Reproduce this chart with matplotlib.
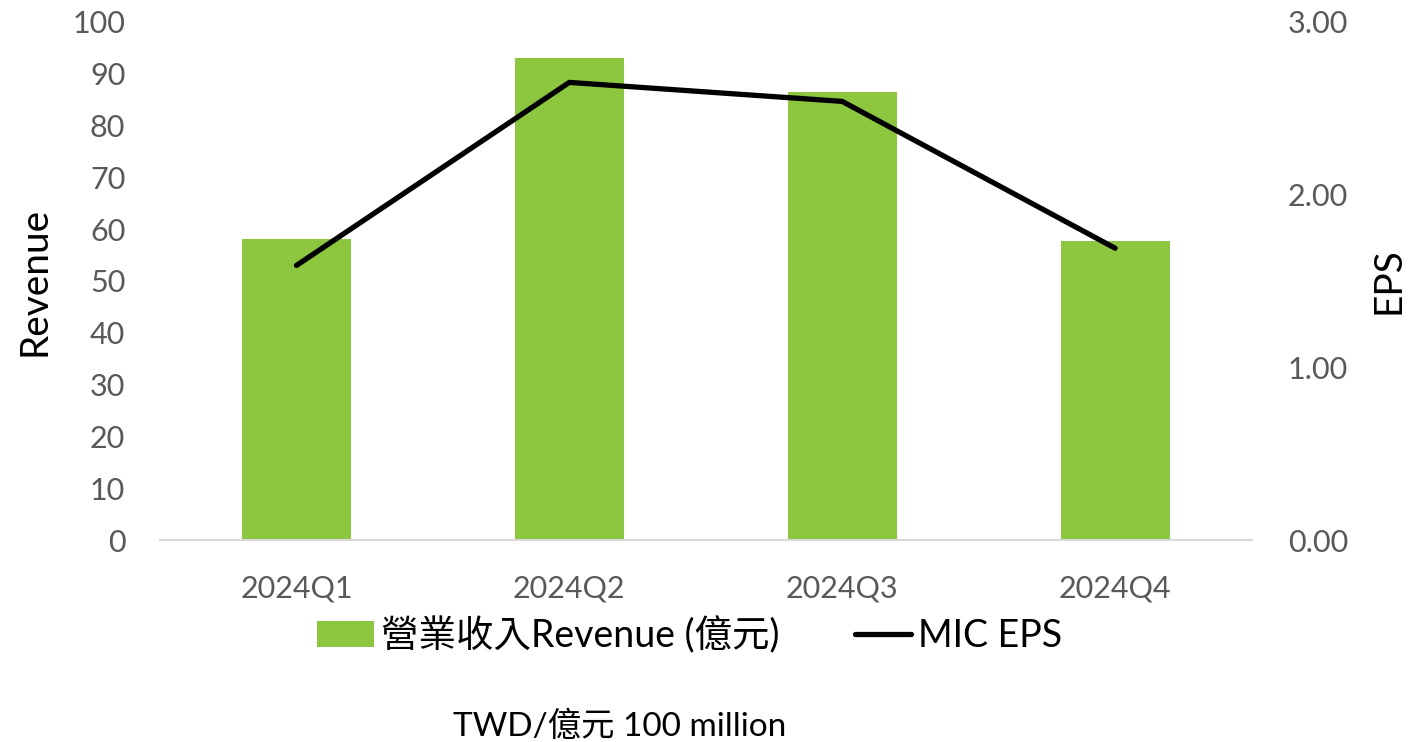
import numpy as np
import matplotlib.pyplot as plt

quarters = ['2024Q1', '2024Q2', '2024Q3', '2024Q4']
revenue = [58.2, 93.0, 86.5, 57.8]
eps = [1.59, 2.65, 2.54, 1.69]

plt.rcParams['font.family'] = ['Lato', 'Noto Sans CJK TC', 'DejaVu Sans']

fig = plt.figure(figsize=(14.11, 7.42), dpi=100)
ax = fig.add_axes([0.1134, 0.2722, 0.7736, 0.6982])
ax2 = ax.twinx()

x = np.arange(len(quarters))
bars = ax.bar(x, revenue, width=0.4, color='#8dc63f', label='營業收入Revenue (億元)', zorder=2)
line, = ax2.plot(x, eps, color='black', linewidth=3.8, solid_capstyle='round',
                 label='MIC EPS', zorder=3)

ax.set_xlim(-0.5, 3.5)
ax.set_ylim(0, 100)
ax.set_yticks(np.arange(0, 101, 10))
ax2.set_ylim(0, 3)
ax2.set_yticks([0, 1, 2, 3])
ax2.set_yticklabels(['%.2f' % v for v in [0, 1, 2, 3]])
ax.set_xticks(x)
ax.set_xticklabels(quarters)

for a in (ax, ax2):
  for s in a.spines.values():
    s.set_visible(False)
  a.tick_params(length=0, labelsize=22, colors='#595959')
ax.spines['bottom'].set_visible(True)
ax.spines['bottom'].set_color('#d9d9d9')
ax.spines['bottom'].set_linewidth(1.5)
ax.tick_params(axis='x', pad=25)
ax.tick_params(axis='y', pad=25)
ax2.tick_params(axis='y', pad=26)

ax.set_ylabel('Revenue', fontsize=28, color='black', labelpad=14)
ax2.set_ylabel('EPS', fontsize=28, color='black', labelpad=16)

fig.legend(handles=[bars, line], loc='center', bbox_to_anchor=(0.489, 0.144),
           ncol=2, frameon=False, fontsize=27, handlelength=1.5,
           handletextpad=0.2, columnspacing=2.0)

fig.text(0.439, 0.0, 'TWD/億元 100 million', fontsize=24, ha='center', va='bottom')

fig.savefig('out.png', dpi=100)
